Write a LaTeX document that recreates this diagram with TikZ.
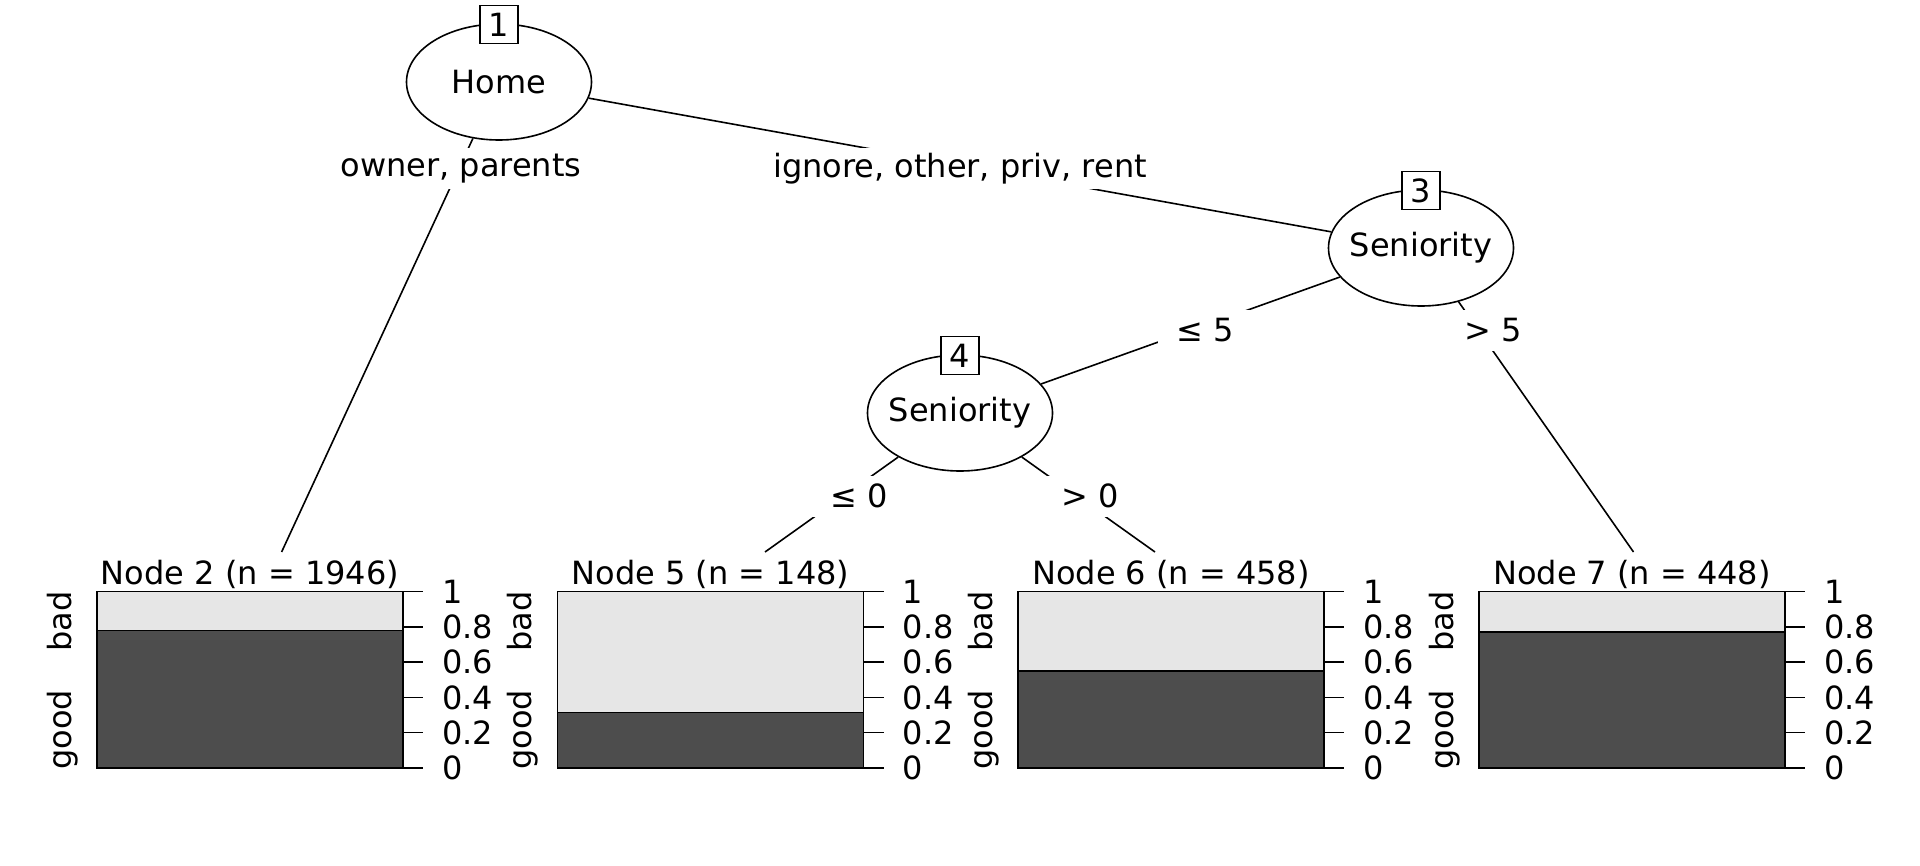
\documentclass[tikz,border=0pt]{standalone}
\usepackage{fontspec}
\setmainfont{DejaVu Sans}
\usetikzlibrary{shapes.geometric,backgrounds}
\definecolor{lightbar}{HTML}{E6E6E6}
\definecolor{darkbar}{HTML}{4D4D4D}
\tikzset{
  splitnode/.style={ellipse, draw, line width=1.6pt, fill=white, minimum width=185pt, minimum height=116pt, inner sep=0pt},
  idbox/.style={draw, fill=white, line width=1.3pt, minimum width=38pt, minimum height=38pt, inner sep=0pt},
  edgelabel/.style={fill=white, inner xsep=18pt, inner ysep=0pt, minimum height=41pt},
  branch/.style={line width=1.6pt},
  barframe/.style={line width=1.2pt},
  tickline/.style={line width=1.5pt},
  ticklabel/.style={anchor=west, inner sep=0pt},
  ylab/.style={rotate=90, anchor=base, inner sep=0pt},
  paneltitle/.style={anchor=base, inner sep=0pt}
}
\newcommand\termpanel[4]{%
  \fill[lightbar] (#2,591.5) rectangle (#2+306,#3);
  \fill[darkbar] (#2,#3) rectangle (#2+306,768);
  \draw[barframe] (#2,591.5) rectangle (#2+306,768);
  \draw[barframe] (#2,#3) -- (#2+306,#3);
  \node[paneltitle] (t#1) at (#2+153,584) {Node #1 (n = #4)};
  \draw[tickline] (#2+306,591.5) -- (#2+306,768);
  \foreach \kk/\lab in {0/1,1/0.8,2/0.6,3/0.4,4/0.2,5/0} {
    \draw[tickline] (#2+306,591.5+35.3*\kk) -- (#2+326,591.5+35.3*\kk);
    \node[ticklabel] (tk#1\kk) at (#2+345,591.5+35.3*\kk) {\lab};
  }
  \node[ylab] (yb#1) at (#2-25.6,621.5) {bad};
  \node[ylab] (yg#1) at (#2-25.6,730) {good};
}
\begin{document}
\begin{tikzpicture}[x=1pt,y=-1pt,font=\fontsize{32}{38}\selectfont]
\useasboundingbox (0,0) rectangle (1920,865);
% inner nodes
\node[splitnode] (n1) at (499,82) {\makebox[0pt]{Home}};
\node[idbox] (b1) at (499,24.5) {1};
\node[splitnode] (n3) at (1421,248) {\makebox[0pt]{Seniority}};
\node[idbox] (b3) at (1421,190.5) {3};
\node[splitnode] (n4) at (960,413) {\makebox[0pt]{Seniority}};
\node[idbox] (b4) at (960,355.5) {4};
% edge labels
\node[edgelabel] (l12) at (461,168.5) {owner, parents};
\node[edgelabel] (l13) at (960,168.5) {ignore, other, priv, rent};
\node[edgelabel] (l34) at (1205,330) {≤ 5};
\node[edgelabel] (l37) at (1493,330) {> 5};
\node[edgelabel] (l45) at (859,496) {≤ 0};
\node[edgelabel] (l46) at (1090,496) {> 0};
% edge ends at terminal panels
\coordinate (e2) at (281.6,552);
\coordinate (e5) at (765,552);
\coordinate (e6) at (1155,552);
\coordinate (e7) at (1633.5,552);
\begin{pgfonlayer}{background}
\draw[branch] (n1) -- (e2);
\draw[branch] (n1) -- (n3);
\draw[branch] (n3) -- (n4);
\draw[branch] (n3) -- (e7);
\draw[branch] (n4) -- (e5);
\draw[branch] (n4) -- (e6);
\end{pgfonlayer}
% terminal panels
\termpanel{2}{97}{630.6}{1946}
\termpanel{5}{557.5}{712.7}{148}
\termpanel{6}{1018}{671}{458}
\termpanel{7}{1479}{632}{448}
\end{tikzpicture}
\end{document}
